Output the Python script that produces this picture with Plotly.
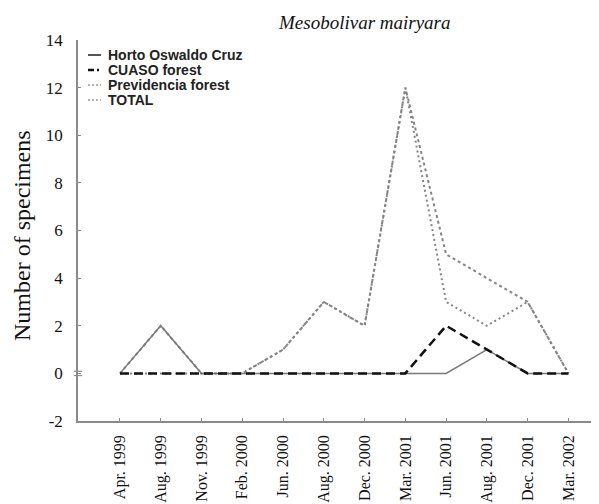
import plotly.graph_objects as go

dates = ["Apr. 1999", "Aug. 1999", "Nov. 1999", "Feb. 2000", "Jun. 2000", "Aug. 2000",
         "Dec. 2000", "Mar. 2001", "Jun. 2001", "Aug. 2001", "Dec. 2001", "Mar. 2002"]
horto = [0, 2, 0, 0, 0, 0, 0, 0, 0, 1, 0, 0]
cuaso = [0, 0, 0, 0, 0, 0, 0, 0, 2, 1, 0, 0]
previdencia = [0, 0, 0, 0, 1, 3, 2, 12, 3, 2, 3, 0]
total = [0, 2, 0, 0, 1, 3, 2, 12, 5, 4, 3, 0]
y_ticks = [-2, 0, 2, 4, 6, 8, 10, 12, 14]
y_ticktext = ["-2", "0", "2", "4", "6", "8", "10", "12", "14"]
series_names = ["Horto Oswaldo Cruz", "CUASO forest", "Previdencia forest", "TOTAL"]

xi = list(range(len(dates)))
GRAY = "#8a8a8a"

# the page body has an 8px margin; figure coords = page coords - 8
OFF = 8
W, H = 599 - OFF, 504 - OFF
L, R, T, B = 78 - OFF, 0, 40 - OFF, 504 - 421
PW, PH = W - L - R, H - T - B


def px_x(px):  # page pixel -> paper
    return (px - OFF - L) / PW


def px_y(py):
    return (H - B - (py - OFF)) / PH


styles = {
    "Horto Oswaldo Cruz": dict(color="#7a7a7a", width=1.5),
    "CUASO forest": dict(color="#111111", width=2.5, dash="9px,5px"),
    "Previdencia forest": dict(color="#858585", width=2, dash="2px,3px"),
    "TOTAL": dict(color="#858585", width=2, dash="3px,3px"),
}
data = {"Horto Oswaldo Cruz": horto, "CUASO forest": cuaso,
        "Previdencia forest": previdencia, "TOTAL": total}

fig = go.Figure()
for name in ["Previdencia forest", "TOTAL", "Horto Oswaldo Cruz", "CUASO forest"]:
    fig.add_trace(go.Scatter(x=xi, y=data[name], mode="lines", name=name,
                             line=styles[name], showlegend=False))

# axis-break marks on the y axis at 0
for dy in (-0.09, 0.09):
    fig.add_shape(type="line", xref="paper", yref="y", x0=-0.008, x1=0.008, y0=dy, y1=dy,
                  line=dict(color=GRAY, width=1.2))

# legend (drawn manually to match the compact original)
leg_rows = [55, 70, 85, 100]
leg_sym = {
    "Horto Oswaldo Cruz": dict(color="#555555", width=2),
    "CUASO forest": dict(color="#111111", width=2.5, dash="6px,3px,2px,3px"),
    "Previdencia forest": dict(color="#999999", width=1.5, dash="2px,2px"),
    "TOTAL": dict(color="#999999", width=1.5, dash="2px,2px"),
}
for name, py in zip(series_names, leg_rows):
    fig.add_shape(type="line", xref="paper", yref="paper", x0=px_x(88), x1=px_x(101),
                  y0=px_y(py), y1=px_y(py), line=leg_sym[name])
    fig.add_annotation(text="<b>%s</b>" % name, xref="paper", yref="paper",
                       x=px_x(106), y=px_y(py), xanchor="left", yanchor="middle",
                       showarrow=False,
                       font=dict(family="Liberation Sans", size=14, color="#222"))

fig.add_annotation(text="<i>Mesobolivar mairyara</i>", xref="paper", yref="paper",
                   x=px_x(364), y=px_y(22), xanchor="center", yanchor="middle",
                   showarrow=False, font=dict(family="Liberation Serif", size=19, color="#111"))
fig.add_annotation(text="Number of specimens", xref="paper", yref="paper",
                   x=px_x(22), y=px_y(236), xanchor="center", yanchor="middle",
                   textangle=-90, showarrow=False,
                   font=dict(family="Liberation Serif", size=24, color="#111"))

fig.update_layout(
    width=W, height=H,
    margin=dict(l=L, r=R, t=T, b=B),
    paper_bgcolor="white", plot_bgcolor="white",
    showlegend=False,
    xaxis=dict(range=[-1.03, 11.75], tickmode="array", tickvals=xi, ticktext=dates,
               tickangle=-90, showline=True, linecolor=GRAY, linewidth=1.5, automargin=False,
               ticks="inside", ticklen=3, tickcolor=GRAY, showgrid=False, zeroline=False,
               ticklabelstandoff=6,
               tickfont=dict(family="Liberation Serif", size=16, color="#111")),
    yaxis=dict(range=[-2, 14], tickmode="array", tickvals=y_ticks, ticktext=y_ticktext,
               showline=True, linecolor=GRAY, linewidth=1.5, automargin=False,
               ticks="inside", ticklen=3, tickcolor=GRAY, showgrid=False, zeroline=False,
               ticklabelstandoff=10,
               tickfont=dict(family="Liberation Serif", size=17, color="#111")),
)

fig.write_html("out.html")
